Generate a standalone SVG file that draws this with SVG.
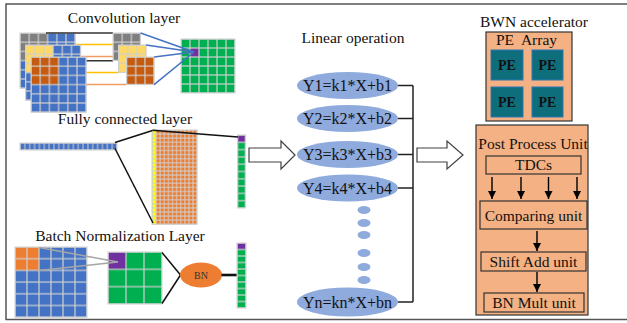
<svg xmlns="http://www.w3.org/2000/svg" width="627" height="323" viewBox="0 0 627 323">
  <style>
    text { font-family: "Liberation Serif", "Times New Roman", serif; fill: #111; }
    .title { font-size: 15.5px; text-anchor: middle; }
    .eq { font-size: 16px; text-anchor: middle; }
    .unit { font-size: 15.5px; text-anchor: middle; }
    .pe { font-size: 14px; font-weight: bold; text-anchor: middle; }
    .gridline { stroke: #D0D0D0; stroke-width: 1; }
    .blue { fill: #4472C4; }
    .green { fill: #00B050; }
    .purple { fill: #7030A0; }
    .orange { fill: #ED7D31; }
    .lin { fill: #8FAADC; }
    .box { fill: #F4B183; stroke: #333; stroke-width: 1.2; }
    .pebox { fill: #0E6E7C; stroke: #2E75B6; stroke-width: 1; }
    .wire { stroke: #222; stroke-width: 1.5; fill: none; }
    .hollow { fill: #fff; stroke: #404040; stroke-width: 1.2; }
  </style>
  <defs>
    <!-- cell outline tiles, one per cell size -->
    <pattern id="c92" width="9.2" height="9.2" patternUnits="userSpaceOnUse"><rect width="9.2" height="9.2" fill="none" stroke="#D0D0D0" stroke-width="1.2"/></pattern>
    <pattern id="c9" width="9" height="9" patternUnits="userSpaceOnUse"><rect width="9" height="9" fill="none" stroke="#D0D0D0" stroke-width="1.2"/></pattern>
    <pattern id="cfv" width="4.85" height="7" patternUnits="userSpaceOnUse"><rect width="4.85" height="7" fill="none" stroke="#D0D0D0" stroke-width="1"/></pattern>
    <pattern id="cfm" width="4.1" height="4.1" patternUnits="userSpaceOnUse"><rect width="4.1" height="4.1" fill="none" stroke="#D0D0D0" stroke-width="1"/></pattern>
    <pattern id="cfo" width="8" height="7.3" patternUnits="userSpaceOnUse"><rect width="8" height="7.3" fill="none" stroke="#D0D0D0" stroke-width="1.2"/></pattern>
    <pattern id="cbn" width="12" height="11.7" patternUnits="userSpaceOnUse"><rect width="12" height="11.7" fill="none" stroke="#D0D0D0" stroke-width="1.2"/></pattern>
    <pattern id="cbg" width="18" height="17.33" patternUnits="userSpaceOnUse"><rect width="18" height="17.33" fill="none" stroke="#D0D0D0" stroke-width="1.2"/></pattern>
    <pattern id="cbo" width="9" height="6.5" patternUnits="userSpaceOnUse"><rect width="9" height="6.5" fill="none" stroke="#D0D0D0" stroke-width="1.2"/></pattern>
    <marker id="head" viewBox="0 0 10 10" refX="10" refY="5" markerWidth="8" markerHeight="9" markerUnits="userSpaceOnUse" orient="auto">
      <path d="M0,0 L10,5 L0,10 z" fill="#000"/>
    </marker>
  </defs>

  <rect width="627" height="323" fill="#fff"/>
  <!-- outer frame -->
  <rect x="6" y="4" width="640" height="315.5" fill="none" stroke="#555" stroke-width="1.5"/>

  <!-- Convolution layer -->
  <g id="conv-layer">
    <text class="title" x="124" y="23">Convolution layer</text>
    <!-- projection lines lying behind the stacked maps -->
    <line x1="53" y1="44.6" x2="118.5" y2="44.6" stroke="#FFC000" stroke-width="1.5"/>
    <line x1="53" y1="72.6" x2="118.5" y2="72.6" stroke="#FFC000" stroke-width="1.5"/>
    <line x1="58.6" y1="56.6" x2="126.5" y2="56.6" stroke="#F19C65" stroke-width="1.5"/>
    <line x1="58.6" y1="84.4" x2="126.5" y2="84.4" stroke="#F19C65" stroke-width="1.5"/>
    <g transform="translate(20,33)">
      <rect width="55.2" height="55.2" class="blue"/>
      <rect width="27.6" height="27.6" fill="#7F7F7F"/>
      <rect width="55.2" height="55.2" fill="url(#c92)" class="gridline"/>
    </g>
    <line x1="46" y1="33" x2="113" y2="33" stroke="#333" stroke-width="1.6"/>
    <line x1="47.6" y1="60.8" x2="113" y2="60.8" stroke="#333" stroke-width="1.6"/>
    <g transform="translate(25.5,45)">
      <rect width="55.2" height="55.2" class="blue"/>
      <rect width="27.6" height="27.6" fill="#FFD966"/>
      <rect width="55.2" height="55.2" fill="url(#c92)" class="gridline"/>
    </g>
    <g transform="translate(31,57)">
      <rect width="55.2" height="55.2" class="blue"/>
      <rect width="27.6" height="27.6" fill="#C55A11"/>
      <rect width="55.2" height="55.2" fill="url(#c92)" class="gridline"/>
    </g>
    <!-- kernels -->
    <g transform="translate(113,33)">
      <rect width="27.6" height="27.6" fill="#7F7F7F"/>
      <rect width="27.6" height="27.6" fill="url(#c92)" class="gridline"/>
    </g>
    <g transform="translate(118.5,45)">
      <rect width="27.6" height="27.6" fill="#FFD966"/>
      <rect width="27.6" height="27.6" fill="url(#c92)" class="gridline"/>
    </g>
    <g transform="translate(126.5,57)">
      <rect width="27.6" height="27.6" fill="#C55A11"/>
      <rect width="27.6" height="27.6" fill="url(#c92)" class="gridline"/>
    </g>
    <!-- output feature map -->
    <g transform="translate(181,39)">
      <rect width="54" height="54" class="green"/>
      <rect x="9" y="9" width="9" height="9" class="purple"/>
      <rect width="54" height="54" fill="url(#c9)" class="gridline"/>
    </g>
    <g stroke="#4472C4" stroke-width="1.5">
      <line x1="140.6" y1="33" x2="194" y2="52"/>
      <line x1="146.1" y1="45" x2="194" y2="52"/>
      <line x1="154.1" y1="57" x2="194" y2="52"/>
      <line x1="154.1" y1="84.6" x2="194" y2="52"/>
    </g>
  </g>

  <!-- Fully connected layer -->
  <g id="fc-layer">
    <text class="title" x="125" y="124">Fully connected layer</text>
    <g transform="translate(20,143)">
      <rect width="97" height="7" class="blue"/>
      <rect width="97" height="7" fill="url(#cfv)" class="gridline"/>
    </g>
    <g transform="translate(152,130)">
      <rect width="45.1" height="94.3" class="orange"/>
      <rect width="4.1" height="94.3" fill="#FFFF00"/>
      <rect width="45.1" height="94.3" fill="url(#cfm)" class="gridline"/>
    </g>
    <g transform="translate(237.5,135)">
      <rect width="8" height="73" class="green"/>
      <rect width="8" height="7.3" class="purple"/>
      <rect width="8" height="73" fill="url(#cfo)" class="gridline"/>
    </g>
    <g stroke="#111" stroke-width="1.5">
      <line x1="115" y1="142.5" x2="152.5" y2="130.5"/>
      <line x1="115" y1="148.5" x2="153" y2="223"/>
      <line x1="152.5" y1="130.3" x2="238" y2="137"/>
    </g>
  </g>

  <!-- Batch normalization layer -->
  <g id="bn-layer">
    <text class="title" x="120" y="241">Batch Normalization Layer</text>
    <g transform="translate(15,247)">
      <rect width="72" height="70.2" class="blue"/>
      <rect width="24" height="23.4" class="orange"/>
      <rect width="72" height="70.2" fill="url(#cbn)" class="gridline"/>
    </g>
    <g transform="translate(108,252)">
      <rect width="54" height="52" class="green"/>
      <rect width="18" height="17.33" class="purple"/>
      <rect width="54" height="52" fill="url(#cbg)" class="gridline"/>
    </g>
    <g stroke="#A6A6A6" stroke-width="1.5">
      <line x1="39" y1="247.5" x2="118" y2="262"/>
      <line x1="39" y1="270.4" x2="118" y2="262"/>
    </g>
    <g stroke="#111" stroke-width="1.5">
      <line x1="162" y1="252.5" x2="180.5" y2="275"/>
      <line x1="162" y1="303.5" x2="180.5" y2="275"/>
    </g>
    <g id="bn-node">
      <ellipse cx="201" cy="275" rx="21" ry="12.5" class="orange"/>
      <text x="201" y="278.5" font-size="10" text-anchor="middle" style="fill:#333">BN</text>
    </g>
    <line x1="221.5" y1="275" x2="237" y2="275" stroke="#111" stroke-width="2.6"/>
    <g transform="translate(237,243)">
      <rect width="9" height="65" class="green"/>
      <rect width="9" height="6.5" class="purple"/>
      <rect width="9" height="65" fill="url(#cbo)" class="gridline"/>
    </g>
  </g>

  <!-- Linear operation -->
  <g id="linear-op">
    <text class="title" x="353" y="43">Linear operation</text>
    <g id="y1"><ellipse cx="347.5" cy="85.5" rx="50.5" ry="13.5" class="lin"/><text class="eq" x="347.5" y="91">Y1=k1*X+b1</text></g>
    <g id="y2"><ellipse cx="347.5" cy="118.5" rx="50.5" ry="13.5" class="lin"/><text class="eq" x="347.5" y="124">Y2=k2*X+b2</text></g>
    <g id="y3"><ellipse cx="347.5" cy="154.5" rx="50.5" ry="13.5" class="lin"/><text class="eq" x="347.5" y="160">Y3=k3*X+b3</text></g>
    <g id="y4"><ellipse cx="347.5" cy="188" rx="50.5" ry="13.5" class="lin"/><text class="eq" x="347.5" y="193.5">Y4=k4*X+b4</text></g>
    <g id="dots" class="lin">
      <ellipse cx="364" cy="210" rx="6.5" ry="4"/>
      <ellipse cx="364" cy="223" rx="6.5" ry="4"/>
      <ellipse cx="364" cy="235" rx="6.5" ry="4"/>
      <ellipse cx="364" cy="253" rx="6.5" ry="4"/>
      <ellipse cx="364" cy="267" rx="6.5" ry="4"/>
      <ellipse cx="364" cy="280" rx="6.5" ry="4"/>
    </g>
    <g id="yn"><ellipse cx="347.5" cy="302" rx="50.5" ry="14.5" class="lin"/><text class="eq" x="347.5" y="307.5">Yn=kn*X+bn</text></g>
  </g>

  <!-- BWN accelerator -->
  <g id="bwn-accelerator">
    <text class="title" x="534" y="27">BWN accelerator</text>
    <g id="pe-array">
      <rect x="486" y="32" width="86" height="89" class="box"/>
      <text class="title" x="526.5" y="45" style="white-space:pre">PE  Array</text>
      <rect x="491" y="50" width="32" height="30" class="pebox"/>
      <text class="pe" x="507" y="70">PE</text>
      <rect x="532" y="50" width="31" height="30" class="pebox"/>
      <text class="pe" x="547.5" y="70">PE</text>
      <rect x="491" y="87" width="32" height="30" class="pebox"/>
      <text class="pe" x="507" y="107">PE</text>
      <rect x="532" y="87" width="31" height="30" class="pebox"/>
      <text class="pe" x="547.5" y="107">PE</text>
    </g>
    <g id="post-process-unit">
      <rect x="476" y="125" width="112" height="190" class="box"/>
      <text class="unit" x="533" y="149">Post Process Unit</text>
    </g>
    <g id="tdcs">
      <rect x="486" y="156" width="95" height="18" class="box"/>
      <text class="unit" x="533.5" y="170">TDCs</text>
    </g>
    <g id="comparing-unit">
      <rect x="480" y="201" width="107" height="28" class="box"/>
      <text class="unit" x="533.5" y="221">Comparing unit</text>
    </g>
    <g id="shift-add-unit">
      <rect x="481" y="252" width="105" height="19" class="box"/>
      <text class="unit" x="533.5" y="266.5">Shift Add unit</text>
    </g>
    <g id="bn-mult-unit">
      <rect x="484" y="293" width="100" height="19" class="box"/>
      <text class="unit" x="534" y="307.5">BN Mult unit</text>
    </g>
  </g>

  <!-- connectors -->
  <g id="connectors">
    <polygon class="hollow" points="249,148 281,148 281,141 295,155 281,169 281,162 249,162"/>
    <polygon class="hollow" points="417,148 447,148 447,141 463,155 447,169 447,162 417,162"/>
    <path class="wire" d="M398,85.5 H413 M398,118.5 H413 M398,154.5 H413 M398,188 H413 M398,302 H413 M413,85.5 V302"/>
    <g stroke="#000" stroke-width="1.4" marker-end="url(#head)">
      <line x1="492" y1="177" x2="492" y2="199"/>
      <line x1="521" y1="177" x2="521" y2="199"/>
      <line x1="548.5" y1="177" x2="548.5" y2="199"/>
      <line x1="577" y1="177" x2="577" y2="199"/>
      <line x1="537" y1="231" x2="537" y2="251"/>
      <line x1="537" y1="272" x2="537" y2="292"/>
    </g>
  </g>
</svg>
